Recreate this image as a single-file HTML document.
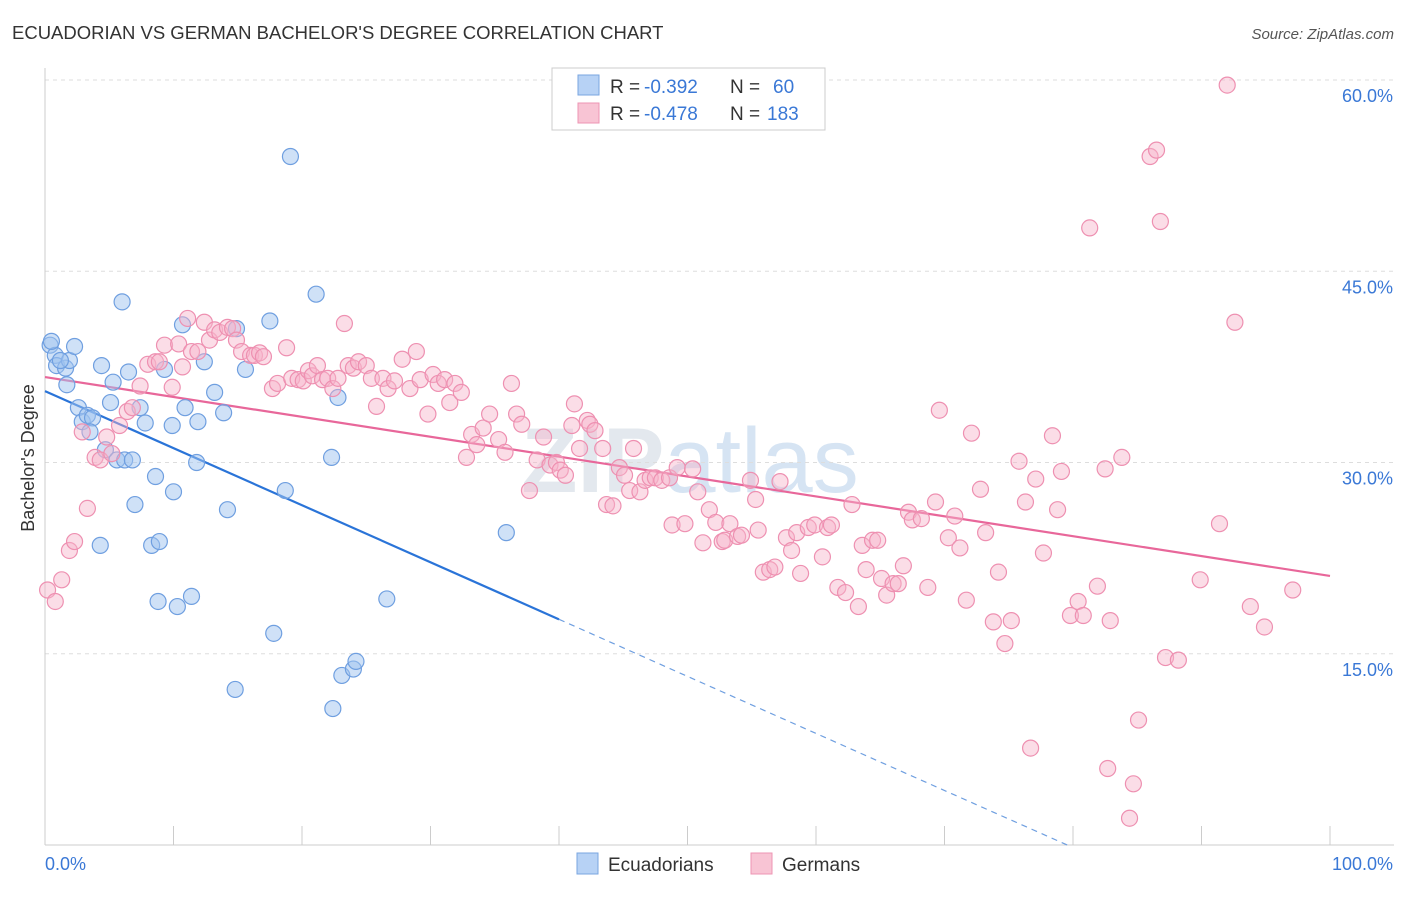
<!DOCTYPE html>
<html><head><meta charset="utf-8"><style>
body{margin:0;background:#fff;font-family:"Liberation Sans",sans-serif;}
svg text{font-family:"Liberation Sans",sans-serif;}
</style></head><body>
<svg id="chart" width="1406" height="892" viewBox="0 0 1406 892" xmlns="http://www.w3.org/2000/svg">
<text x="12" y="39" font-size="18.5" fill="#333">ECUADORIAN VS GERMAN BACHELOR'S DEGREE CORRELATION CHART</text>
<text x="1394" y="39" font-size="15" fill="#555" text-anchor="end" font-style="italic">Source: ZipAtlas.com</text>
<text x="690" y="492" font-size="92" text-anchor="middle" font-family="Liberation Serif"><tspan font-weight="bold" fill="#e3e8ee">ZIP</tspan><tspan font-family="Liberation Sans" fill="#d6e4f3">atlas</tspan></text>
<g id="grid"></g>
<g id="axes"></g>
<g id="trends"></g>
<g id="points"></g>
<text transform="translate(34,458) rotate(-90)" font-size="18" fill="#333" text-anchor="middle">Bachelor's Degree</text>
<g>
<rect x="552" y="68" width="273" height="62" fill="#fff" stroke="#ccc"/>
<rect x="578" y="75" width="21" height="20" fill="#b7d2f5" stroke="#7aa6e0"/>
<text x="610" y="93" font-size="19" fill="#333">R =</text>
<text x="644" y="93" font-size="19" fill="#3a78d6">-0.392</text>
<text x="730" y="93" font-size="19" fill="#333">N =</text>
<text x="773" y="93" font-size="19" fill="#3a78d6">60</text>
<rect x="578" y="103" width="21" height="20" fill="#f8c4d4" stroke="#ee95b3"/>
<text x="610" y="120" font-size="19" fill="#333">R =</text>
<text x="644" y="120" font-size="19" fill="#3a78d6">-0.478</text>
<text x="730" y="120" font-size="19" fill="#333">N =</text>
<text x="767" y="120" font-size="19" fill="#3a78d6">183</text>
</g>
<g>
<rect x="577" y="853" width="21" height="21" fill="#b7d2f5" stroke="#7aa6e0"/>
<text x="608" y="871" font-size="19" fill="#333">Ecuadorians</text>
<rect x="751" y="853" width="21" height="21" fill="#f8c4d4" stroke="#ee95b3"/>
<text x="782" y="871" font-size="19" fill="#333">Germans</text>
</g>
</svg>
<script>
const blueX=[0.4,0.8,0.5,0.9,1.6,1.9,2.3,1.7,2.6,2.9,3.3,3.7,3.5,4.3,4.4,4.7,5.1,5.3,5.6,6.0,6.2,6.5,6.8,7.0,7.4,7.8,8.3,8.6,8.8,8.9,9.3,9.9,10.0,10.3,10.7,10.9,11.4,11.8,11.9,12.4,13.2,13.9,14.2,14.8,14.9,15.6,17.5,17.8,18.7,19.1,21.1,22.3,22.4,22.8,23.1,24.0,24.2,26.6,35.9,1.2];
const blueY=[39.2,38.4,39.5,37.6,37.4,38.0,39.1,36.1,34.3,33.2,33.7,33.5,32.4,23.5,37.6,31.0,34.7,36.3,30.2,42.6,30.2,37.1,30.2,26.7,34.3,33.1,23.5,28.9,19.1,23.8,37.3,32.9,27.7,18.7,40.8,34.3,19.5,30.0,33.2,37.9,35.5,33.9,26.3,12.2,40.5,37.3,41.1,16.6,27.8,54.0,43.2,30.4,10.7,35.1,13.3,13.8,14.4,19.3,24.5,38.0];
const pinkX=[0.2,0.8,1.3,1.9,2.3,3.3,2.9,3.9,4.3,4.8,5.2,5.8,6.4,6.8,7.4,8.0,8.6,8.9,9.3,9.9,10.4,10.7,11.1,11.4,11.9,12.4,12.8,13.2,13.6,14.2,14.6,14.9,15.3,16.0,16.3,16.7,17.0,17.7,18.1,18.8,19.2,19.7,20.1,20.5,20.8,21.2,21.6,22.0,22.4,22.8,23.3,23.6,24.0,24.4,25.0,25.4,25.8,26.3,26.7,27.2,27.8,28.4,28.9,29.2,29.8,30.2,30.6,31.1,31.5,31.9,32.4,32.8,33.2,33.6,34.1,34.6,35.3,35.8,36.3,36.7,37.1,37.7,38.3,38.8,39.3,39.8,40.1,40.5,41.0,41.2,41.6,42.2,42.4,42.8,43.4,43.7,44.2,44.7,45.1,45.5,45.8,46.3,46.7,47.1,47.5,48.0,48.6,48.8,49.2,49.8,50.4,50.8,51.2,51.7,52.2,52.7,52.9,53.3,53.9,54.2,54.9,55.3,55.5,55.9,56.4,56.8,57.2,57.7,58.1,58.5,58.8,59.4,59.9,60.5,60.9,61.2,61.7,62.3,62.8,63.3,63.6,63.9,64.4,64.8,65.1,65.5,66.0,66.4,66.8,67.2,67.5,68.2,68.7,69.3,69.6,70.3,70.8,71.2,71.7,72.1,72.8,73.2,73.8,74.2,74.7,75.2,75.8,76.3,76.7,77.1,77.7,78.4,78.8,79.1,79.8,80.4,80.8,81.3,81.9,82.5,82.9,83.8,85.1,82.7,84.7,84.4,86.0,86.5,86.8,87.2,88.2,89.9,91.4,92.0,92.6,93.8,94.9,97.1];
const pinkY=[20.0,19.1,20.8,23.1,23.8,26.4,32.4,30.4,30.2,32.0,30.7,32.9,34.0,34.3,36.0,37.7,37.9,37.9,39.2,35.9,39.3,37.5,41.3,38.7,38.7,41.0,39.6,40.4,40.2,40.6,40.5,39.6,38.7,38.4,38.4,38.6,38.3,35.8,36.2,39.0,36.6,36.5,36.4,37.2,36.8,37.6,36.5,36.6,35.8,36.6,40.9,37.6,37.4,37.9,37.6,36.6,34.4,36.6,35.8,36.4,38.1,35.8,38.7,36.5,33.8,36.9,36.2,36.5,34.7,36.2,35.5,30.4,32.2,31.4,32.7,33.8,31.8,30.8,36.2,33.8,33.0,27.8,30.2,32.0,29.8,30.0,29.4,29.0,32.9,34.6,31.1,33.3,33.0,32.5,31.1,26.7,26.6,29.6,29.0,27.8,31.1,27.7,28.6,28.8,28.8,28.6,28.8,25.1,29.6,25.2,29.5,27.7,23.7,26.3,25.3,23.8,23.9,25.2,24.2,24.3,28.6,27.1,24.7,21.4,21.6,21.8,28.5,24.1,23.1,24.5,21.3,24.9,25.1,22.6,24.9,25.1,20.2,19.8,26.7,18.7,23.5,21.6,23.9,23.9,20.9,19.6,20.5,20.5,21.9,26.1,25.5,25.6,20.2,26.9,34.1,24.1,25.8,23.3,19.2,32.3,27.9,24.5,17.5,21.4,15.8,17.6,30.1,26.9,7.6,28.7,22.9,32.1,26.3,29.3,18.0,19.1,18.0,48.4,20.3,29.5,17.6,30.4,9.8,6.0,4.8,2.1,54.0,54.5,48.9,14.7,14.5,20.8,25.2,59.6,41.0,18.7,17.1,20.0];
const yTicks=[15,30,45,60];
const yTickLabels=["15.0%","30.0%","45.0%","60.0%"];
const xTicks=[0,10,20,30,40,50,60,70,80,90,100];
const blueTrend=[35.6,-0.4475];
const blueSolidEnd=40;
const pinkTrend=[36.7,-0.156];

const NS="http://www.w3.org/2000/svg";
const xs=v=>45+v*12.85;
const ys=v=>845-v*12.75;
function mk(tag,attrs,parent){const e=document.createElementNS(NS,tag);for(const k in attrs)e.setAttribute(k,attrs[k]);document.getElementById(parent).appendChild(e);return e;}

yTicks.forEach((t,i)=>{
 const g=mk('line',{x1:45,x2:1394,y1:ys(t),y2:ys(t),stroke:'#ddd','stroke-dasharray':'4,4'},'grid');
 
 
 const l=mk('text',{x:1393,y:ys(t)+22,'font-size':18,fill:'#3a78d6','text-anchor':'end'},'grid');
 l.textContent=yTickLabels[i];
 
 
});
const ax=mk('line',{x1:45,x2:1394,y1:845,y2:845,stroke:'#ccc'},'axes');


const ay=mk('line',{x1:45,x2:45,y1:68,y2:845,stroke:'#ccc'},'axes');


xTicks.forEach(t=>{
 const tk=mk('line',{x1:xs(t),x2:xs(t),y1:826,y2:845,stroke:'#ccc'},'axes');
 
 
});
const x0=mk('text',{x:45,y:870,'font-size':18,fill:'#3a78d6'},'axes');x0.textContent='0.0%';


const x1=mk('text',{x:1393,y:870,'font-size':18,fill:'#3a78d6','text-anchor':'end'},'axes');x1.textContent='100.0%';



blueX.forEach((x,i)=>{
 const c=mk('circle',{cx:xs(x),cy:ys(blueY[i]),r:8,fill:'rgba(160,195,240,0.5)',stroke:'#6f9fe0','stroke-width':1.2},'points');
 
 
});
pinkX.forEach((x,i)=>{
 const c=mk('circle',{cx:xs(x),cy:ys(pinkY[i]),r:8,fill:'rgba(246,180,202,0.45)',stroke:'#ee90b1','stroke-width':1.2},'points');
 
 
});
const bf=v=>blueTrend[0]+blueTrend[1]*v;
const bEnd=-blueTrend[0]/blueTrend[1];
const bl=mk('line',{x1:xs(0),y1:ys(bf(0)),x2:xs(blueSolidEnd),y2:ys(bf(blueSolidEnd)),stroke:'#2a74d8','stroke-width':2.2},'trends');


const bd=mk('line',{x1:xs(blueSolidEnd),y1:ys(bf(blueSolidEnd)),x2:xs(bEnd),y2:ys(0),stroke:'#6f9fe0','stroke-width':1.2,'stroke-dasharray':'6,5'},'trends');


const pl=mk('line',{x1:xs(0),y1:ys(pinkTrend[0]),x2:xs(100),y2:ys(pinkTrend[0]+pinkTrend[1]*100),stroke:'#e8679a','stroke-width':2.2},'trends');


</script>
</body></html>
